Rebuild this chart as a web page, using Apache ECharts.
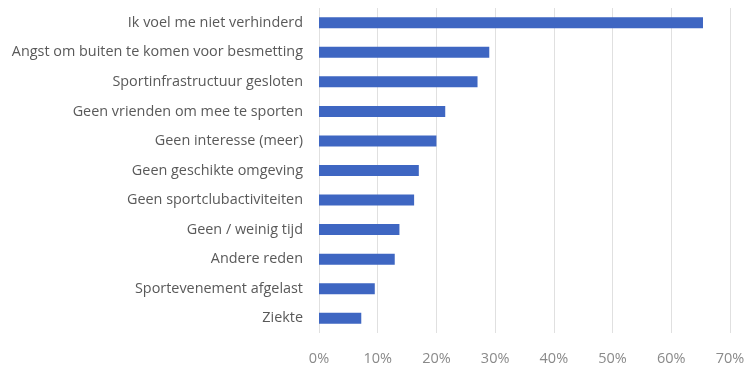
<!DOCTYPE html>
<html>
<head>
<meta charset="utf-8">
<script src="https://cdn.jsdelivr.net/npm/echarts@6/dist/echarts.min.js"></script>
<style>
  html, body { margin: 0; padding: 0; background: #ffffff; }
  #chart { width: 749px; height: 370px; }
</style>
</head>
<body>
<div id="chart"></div>
<script>
// Reasons for not exercising, top to bottom
const categories = [
  'Ik voel me niet verhinderd',
  'Angst om buiten te komen voor besmetting',
  'Sportinfrastructuur gesloten',
  'Geen vrienden om mee te sporten',
  'Geen interesse (meer)',
  'Geen geschikte omgeving',
  'Geen sportclubactiviteiten',
  'Geen / weinig tijd',
  'Andere reden',
  'Sportevenement afgelast',
  'Ziekte'
];
// Share of respondents, in percent
const shares = [65.4, 29.0, 27.0, 21.5, 20.0, 17.0, 16.2, 13.7, 12.9, 9.5, 7.2];
// Axis range (percent)
const axisMin = 0;
const axisMax = 70;
const axisStep = 10;

const chart = echarts.init(document.getElementById('chart'), null, { renderer: 'canvas' });
chart.setOption({
  animation: false,
  grid: { left: 319, right: 19, top: 8, bottom: 37, containLabel: false },
  xAxis: {
    type: 'value',
    min: axisMin,
    max: axisMax,
    interval: axisStep,
    axisLine: { show: false },
    axisTick: { show: false },
    splitLine: { lineStyle: { color: '#e0e0e0', width: 1 } },
    axisLabel: {
      formatter: v => v + '%',
      color: '#8a8a8a',
      fontFamily: 'Open Sans',
      fontSize: 14.5,
      margin: 18
    }
  },
  yAxis: {
    type: 'category',
    data: categories,
    inverse: true,
    axisLine: { show: false },
    axisTick: { show: false },
    axisLabel: {
      color: '#595959',
      fontFamily: 'Open Sans',
      fontSize: 14.4,
      margin: 16
    }
  },
  series: [{
    type: 'bar',
    data: shares,
    barWidth: 11,
    itemStyle: { color: '#3E66C2' }
  }]
});
</script>
</body>
</html>
